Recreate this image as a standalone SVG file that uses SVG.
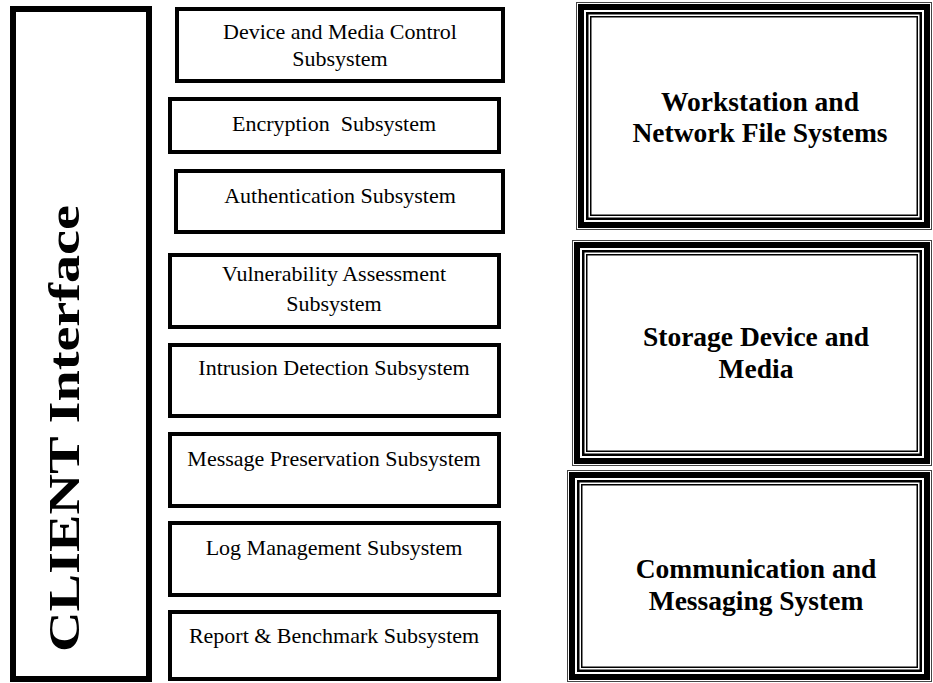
<svg xmlns="http://www.w3.org/2000/svg" width="933" height="683" viewBox="0 0 933 683">
<style>
.bg{fill:#fff}
.client{fill:#fff;stroke:#000;stroke-width:6}
.sub{fill:#fff;stroke:#000;stroke-width:4}
.t{font-family:"Liberation Serif","Times New Roman",serif;font-size:22px;fill:#000;text-anchor:middle}
.tb{font-family:"Liberation Serif","Times New Roman",serif;font-size:27.5px;font-weight:bold;fill:#000;text-anchor:middle}
.tc{font-family:"Liberation Serif","Times New Roman",serif;font-size:44px;font-weight:bold;fill:#000;text-anchor:middle}
.o1{fill:#fff;stroke:#444;stroke-width:1}
.o2{fill:none;stroke:#000;stroke-width:6}
.o3{fill:none;stroke:#000;stroke-width:2.5}
.o4{fill:none;stroke:#000;stroke-width:1.5}
</style>
<rect class="bg" x="0" y="0" width="933" height="683"/>
<g id="client">
<rect class="client" x="13" y="9" width="136" height="670"/>
<text class="tc" transform="translate(79,428.5) rotate(-90)" textLength="447" lengthAdjust="spacingAndGlyphs">CLIENT Interface</text>
</g>
<g id="device">
<rect class="sub" x="177" y="9" width="326" height="72"/>
<text class="t" x="340" y="39">Device and Media Control</text>
<text class="t" x="340" y="66">Subsystem</text>
</g>
<g id="encryption">
<rect class="sub" x="170" y="99" width="329" height="53"/>
<text class="t" x="334" y="131" xml:space="preserve">Encryption  Subsystem</text>
</g>
<g id="authentication">
<rect class="sub" x="176" y="171" width="327" height="61"/>
<text class="t" x="340" y="203">Authentication Subsystem</text>
</g>
<g id="vulnerability">
<rect class="sub" x="170" y="255" width="329" height="72"/>
<text class="t" x="334" y="281">Vulnerability Assessment</text>
<text class="t" x="334" y="311">Subsystem</text>
</g>
<g id="intrusion">
<rect class="sub" x="170" y="345" width="329" height="71"/>
<text class="t" x="334" y="375">Intrusion Detection Subsystem</text>
</g>
<g id="message">
<rect class="sub" x="170" y="434" width="329" height="72"/>
<text class="t" x="334" y="466">Message Preservation Subsystem</text>
</g>
<g id="log">
<rect class="sub" x="170" y="523" width="329" height="72"/>
<text class="t" x="334" y="555">Log Management Subsystem</text>
</g>
<g id="report">
<rect class="sub" x="170" y="612" width="329" height="67"/>
<text class="t" x="334" y="643">Report &amp; Benchmark Subsystem</text>
</g>
<g id="workstation">
<rect class="o1" x="576.5" y="2.5" width="355" height="227"/>
<rect class="o2" x="581" y="7" width="346" height="218"/>
<rect class="o3" x="587.25" y="13.25" width="333.5" height="205.5"/>
<rect class="o4" x="590.75" y="16.75" width="326.5" height="198.5"/>
<text class="tb" x="760" y="111">Workstation and</text>
<text class="tb" x="760" y="142">Network File Systems</text>
</g>
<g id="storage">
<rect class="o1" x="572.5" y="240.5" width="359" height="225"/>
<rect class="o2" x="577" y="245" width="350" height="216"/>
<rect class="o3" x="583.25" y="251.25" width="337.5" height="203.5"/>
<rect class="o4" x="586.75" y="254.75" width="330.5" height="196.5"/>
<text class="tb" x="756" y="346">Storage Device and</text>
<text class="tb" x="756" y="378">Media</text>
</g>
<g id="communication">
<rect class="o1" x="567.5" y="470.5" width="364" height="211"/>
<rect class="o2" x="572" y="475" width="355" height="202"/>
<rect class="o3" x="578.25" y="481.25" width="342.5" height="189.5"/>
<rect class="o4" x="581.75" y="484.75" width="335.5" height="182.5"/>
<text class="tb" x="756" y="578">Communication and</text>
<text class="tb" x="756" y="610">Messaging System</text>
</g>
<g id="connectors"></g>
</svg>
